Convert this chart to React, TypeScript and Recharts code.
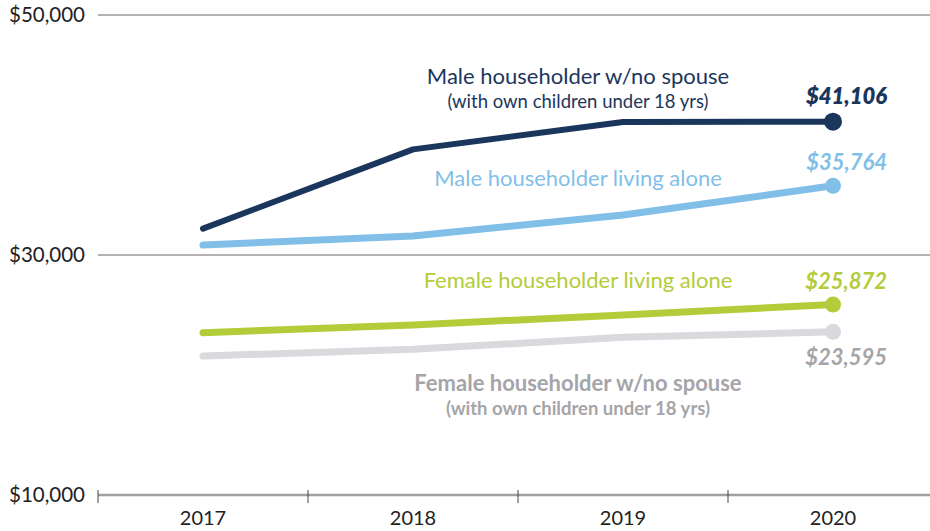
import { LineChart, Line, XAxis, YAxis, CartesianGrid, LabelList } from 'recharts';

const years = ['2017', '2018', '2019', '2020'];
const maleNoSpouse = [32200, 38800, 41080, 41106];
const maleAlone = [30830, 31580, 33330, 35764];
const femaleAlone = [23530, 24170, 25000, 25872];
const femaleNoSpouse = [21580, 22140, 23140, 23595];
const yTicks = [10000, 30000, 50000];

const FONT = 'Lato, "Open Sans", sans-serif';
const HALF_STEP = 105;

const series = [
  {
    key: 'maleNoSpouse',
    color: '#1b365d',
    textColor: '#1b365d',
    width: 6,
    r: 9,
    title: 'Male householder w/no spouse',
    sub: '(with own children under 18 yrs)',
    titleDy: -46,
    titleWeight: 400,
    valueDy: -25,
    valueWeight: 800,
  },
  {
    key: 'maleAlone',
    color: '#82bfe8',
    textColor: '#82bfe8',
    width: 7,
    r: 8,
    title: 'Male householder living alone',
    sub: null,
    titleDy: -37,
    titleWeight: 400,
    valueDy: -24,
    valueWeight: 700,
  },
  {
    key: 'femaleAlone',
    color: '#b3cc3a',
    textColor: '#b3cc3a',
    width: 7,
    r: 8,
    title: 'Female householder living alone',
    sub: null,
    titleDy: -35,
    titleWeight: 400,
    valueDy: -23,
    valueWeight: 700,
  },
  {
    key: 'femaleNoSpouse',
    color: '#d9d9de',
    textColor: '#a5a5a9',
    width: 7,
    r: 8,
    title: 'Female householder w/no spouse',
    sub: '(with own children under 18 yrs)',
    titleDy: 46,
    titleWeight: 700,
    valueDy: 25,
    valueWeight: 700,
  },
];

const data = years.map((year, i) => ({
  year,
  maleNoSpouse: maleNoSpouse[i],
  maleAlone: maleAlone[i],
  femaleAlone: femaleAlone[i],
  femaleNoSpouse: femaleNoSpouse[i],
}));

const money = (v: number) => `$${v.toLocaleString('en-US')}`;

const XTick = (props: any) => {
  const { x, y, payload } = props;
  const axisY = y - 8;
  return (
    <g>
      <line x1={x - HALF_STEP} x2={x - HALF_STEP} y1={axisY - 5} y2={axisY + 8} stroke="#444" strokeWidth={1} />
      <text x={x} y={y + 22} textAnchor="middle" fontFamily={FONT} fontSize={20} fill="#222">
        {payload.value}
      </text>
    </g>
  );
};

const YTick = (props: any) => {
  const { x, y, payload } = props;
  return (
    <text x={x - 5} y={y} dy="0.35em" textAnchor="end" fontFamily={FONT} fontSize={20.5} fill="#222">
      {money(payload.value)}
    </text>
  );
};

const makeLabel = (s: (typeof series)[number]) => (props: any) => {
  const { x, y, index, value } = props;
  if (index === 2) {
    const tx = x - 45;
    const ty = y + s.titleDy;
    return (
      <g>
        <text x={tx} y={ty} dy="0.35em" textAnchor="middle" fontFamily={FONT} fontSize={22} fontWeight={s.titleWeight} fill={s.textColor}>
          {s.title}
        </text>
        {s.sub && (
          <text x={tx} y={ty + 25} dy="0.35em" textAnchor="middle" fontFamily={FONT} fontSize={18.5} fontWeight={s.titleWeight} fill={s.textColor}>
            {s.sub}
          </text>
        )}
      </g>
    );
  }
  if (index === 3) {
    return (
      <text
        x={x + 54}
        y={y + s.valueDy}
        dy="0.35em"
        textAnchor="end"
        fontFamily={FONT}
        fontSize={22}
        fontStyle="italic"
        fontWeight={s.valueWeight}
        fill={s.textColor}
      >
        {money(value)}
      </text>
    );
  }
  return <g />;
};

const makeDot = (s: (typeof series)[number]) => (props: any) => {
  const { cx, cy, index } = props;
  if (index !== 3) return <g key={`d-${s.key}-${index}`} />;
  return <circle key={`d-${s.key}-${index}`} cx={cx} cy={cy} r={s.r} fill={s.color} />;
};

export default function App() {
  return (
    <div style={{ position: 'absolute', left: 0, top: 0, width: 930, height: 531, overflow: 'hidden', background: '#fff' }}>
      <LineChart width={940} height={531} data={data} margin={{ top: 15, right: 2, bottom: 0, left: 0 }}>
        <CartesianGrid vertical={false} stroke="#9a9a9a" strokeWidth={1.3} />
        <XAxis
          dataKey="year"
          height={36}
          padding={{ left: HALF_STEP, right: HALF_STEP }}
          axisLine={{ stroke: '#a0a0a0', strokeWidth: 2.5 }}
          tickLine={false}
          tick={<XTick />}
          interval={0}
        />
        <YAxis
          width={98}
          domain={[10000, 50000]}
          ticks={yTicks}
          axisLine={false}
          tickLine={false}
          tick={<YTick />}
        />
        {series.map((s) => (
          <Line
            key={s.key}
            dataKey={s.key}
            type="linear"
            stroke={s.color}
            strokeWidth={s.width}
            strokeLinecap="round"
            strokeLinejoin="round"
            dot={makeDot(s)}
            activeDot={false}
            isAnimationActive={false}
          >
            <LabelList dataKey={s.key} content={makeLabel(s)} />
          </Line>
        ))}
      </LineChart>
    </div>
  );
}
